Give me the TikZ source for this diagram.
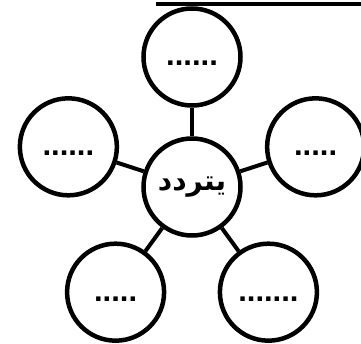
\documentclass[tikz,border=0pt]{standalone}
\usepackage{fontspec}
\newfontfamily\dotfont[BoldFont={Liberation Sans Bold}]{Liberation Sans}
\newfontfamily\arabicfont[Script=Arabic, BoldFont={DejaVu Sans Bold}]{DejaVu Sans}
\TeXXeTstate=1
\usetikzlibrary{positioning}

\begin{document}
\begin{tikzpicture}[
    x=1pt, y=1pt,
    bubble/.style={circle, draw, line width=4.5pt, minimum size=97pt, inner sep=0pt, fill=white,
        text height=18pt, text depth=0pt, font=\dotfont\bfseries\fontsize{31}{31}\selectfont},
    hub/.style={circle, draw, line width=4.5pt, minimum size=97pt, inner sep=0pt, fill=white,
        font=\arabicfont\bfseries\fontsize{28}{28}\selectfont},
    link/.style={line width=4pt}
]
\useasboundingbox (0,0) rectangle (361,343);

% Nodes
\node[hub] (hub) at (192,156) {\beginR يتردد\endR};

\node[bubble] (top) at ([shift={(90:130)}]hub) {......};
\node[bubble] (left) at ([shift={(162:130)}]hub) {......};
\node[bubble] (right) at ([shift={(18:130)}]hub) {.....};
\node[bubble] (botleft) at ([shift={(234:130)}]hub) {.....};
\node[bubble] (botright) at ([shift={(306:130)}]hub) {.......};

% Links
\foreach \n in {top, left, right, botleft, botright}
    \draw[link] (hub) -- (\n);

% Top rule
\coordinate (rulestart) at (156,339);
\coordinate (ruleend) at (361,339);
\draw[line width=4pt] (rulestart) -- (ruleend);

\end{tikzpicture}
\end{document}
